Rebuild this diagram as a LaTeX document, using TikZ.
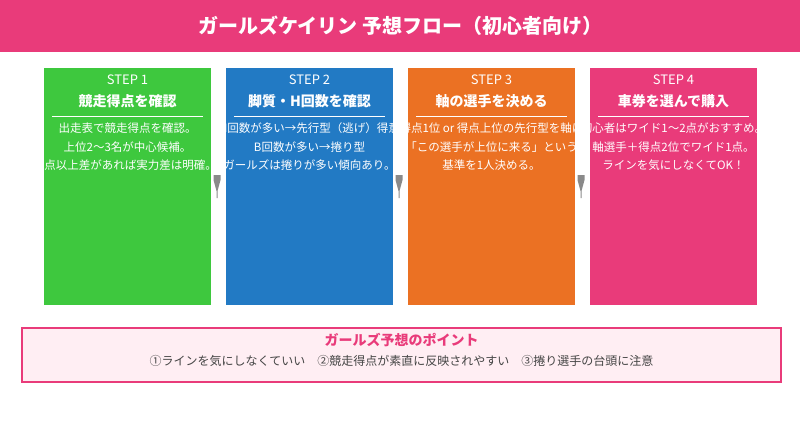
\documentclass[tikz,border=0pt]{standalone}
\usepackage{fontspec}
\setmainfont{Noto Sans CJK JP}
\usetikzlibrary{positioning,calc}

\definecolor{barpink}{HTML}{E93B7A}
\definecolor{stepgreen}{HTML}{3EC83E}
\definecolor{stepblue}{HTML}{227AC4}
\definecolor{steporange}{HTML}{EB7123}
\definecolor{pointbg}{HTML}{FFEEF3}
\definecolor{pointtext}{HTML}{444444}
\definecolor{markgray}{HTML}{8A8A8A}

\tikzset{
	stepbox/.style={anchor=north west,minimum width=167pt,minimum height=237pt,inner sep=0pt,outer sep=0pt},
	steplabel/.style={text=white,font=\fontsize{13}{15}\selectfont,inner sep=0pt},
	steptitle/.style={text=white,font=\bfseries\fontsize{14}{16}\selectfont,inner sep=0pt},
	stepbody/.style={text=white,font=\fontsize{11.5}{18.5}\selectfont,align=center,inner sep=0pt},
	steprule/.style={white,line width=1pt},
	flowmark/.pic={\fill[markgray] (-3.5,-11.5) -- (3.5,-11.5) -- (3.5,-6.5) -- (0.5,4.5) -- (0.5,11.5) -- (-0.5,11.5) -- (-0.5,4.5) -- (-3.5,-6.5) -- cycle;}
}

\begin{document}
\begin{tikzpicture}[x=1pt,y=-1pt]
	\useasboundingbox (0,0) rectangle (800,440);
	% header
	\node (bar) [fill=barpink,anchor=north west,minimum width=800pt,minimum height=52pt,inner sep=0pt] at (0,0) {};
	\node (head) [text=white,font=\bfseries\fontsize{20}{24}\selectfont] at (bar.center) {ガールズケイリン 予想フロー（初心者向け）};
	% steps
	\node[stepbox,fill=stepgreen] (s1) at (44,68) {};
	\node[stepbox,fill=stepblue] (s2) [right=15pt of s1] {};
	\node[stepbox,fill=steporange] (s3) [right=15pt of s2] {};
	\node[stepbox,fill=barpink] (s4) [right=15pt of s3] {};
	\begin{scope}
		\clip (s1.north west) rectangle (s1.south east);
		\node[steplabel] (s1a) at ($(s1.north)+(0,12)$) {STEP 1};
		\node[steptitle] (s1b) at ($(s1.north)+(0,33)$) {競走得点を確認};
		\draw[steprule] ($(s1.north west)+(8,48)$) -- ($(s1.north east)+(-8,48)$);
		\node[stepbody] (s1c) at ($(s1.north)+(0,79)$) {出走表で競走得点を確認。\\上位2〜3名が中心候補。\\5点以上差があれば実力差は明確。};
	\end{scope}
	\begin{scope}
		\clip (s2.north west) rectangle (s2.south east);
		\node[steplabel] (s2a) at ($(s2.north)+(0,12)$) {STEP 2};
		\node[steptitle] (s2b) at ($(s2.north)+(0,33)$) {脚質・H回数を確認};
		\draw[steprule] ($(s2.north west)+(8,48)$) -- ($(s2.north east)+(-8,48)$);
		\node[stepbody] (s2c) at ($(s2.north)+(0,79)$) {H回数が多い→先行型（逃げ）得意\\B回数が多い→捲り型\\ガールズは捲りが多い傾向あり。};
	\end{scope}
	\begin{scope}
		\clip (s3.north west) rectangle (s3.south east);
		\node[steplabel] (s3a) at ($(s3.north)+(0,12)$) {STEP 3};
		\node[steptitle] (s3b) at ($(s3.north)+(0,33)$) {軸の選手を決める};
		\draw[steprule] ($(s3.north west)+(8,48)$) -- ($(s3.north east)+(-8,48)$);
		\node[stepbody] (s3c) at ($(s3.north)+(0,79)$) {得点1位 or 得点上位の先行型を軸に\\「この選手が上位に来る」という\\基準を1人決める。};
	\end{scope}
	\begin{scope}
		\clip (s4.north west) rectangle (s4.south east);
		\node[steplabel] (s4a) at ($(s4.north)+(0,12)$) {STEP 4};
		\node[steptitle] (s4b) at ($(s4.north)+(0,33)$) {車券を選んで購入};
		\draw[steprule] ($(s4.north west)+(8,48)$) -- ($(s4.north east)+(-8,48)$);
		\node[stepbody] (s4c) at ($(s4.north)+(0,79)$) {初心者はワイド1〜2点がおすすめ。\\軸選手＋得点2位でワイド1点。\\ラインを気にしなくてOK！};
	\end{scope}
	% marks between the steps
	\pic at ($(s1.east)!0.5!(s2.west)+(-1.5,0)$) {flowmark};
	\pic at ($(s2.east)!0.5!(s3.west)+(-1.5,0)$) {flowmark};
	\pic at ($(s3.east)!0.5!(s4.west)+(-1.5,0)$) {flowmark};
	% points
	\node (pt) [draw=barpink,line width=2pt,fill=pointbg,anchor=north west,minimum width=759pt,minimum height=54pt,inner sep=0pt] at (21,327) {};
	\node (pta) [text=barpink,font=\bfseries\fontsize{14}{16}\selectfont,inner sep=0pt] at ($(pt.north)+(0,13)$) {ガールズ予想のポイント};
	\node (ptb) [text=pointtext,font=\fontsize{12}{14}\selectfont,inner sep=0pt] at ($(pt.north)+(0,34)$) {①ラインを気にしなくていい　②競走得点が素直に反映されやすい　③捲り選手の台頭に注意};
\end{tikzpicture}
\end{document}
